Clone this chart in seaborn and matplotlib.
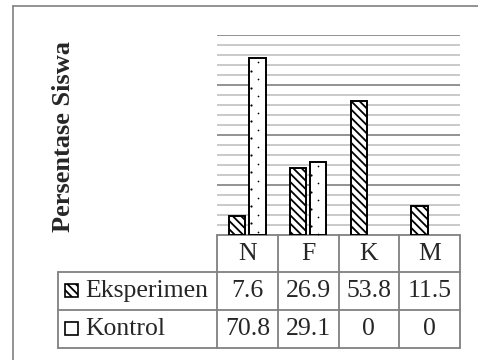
import matplotlib
matplotlib.use("Agg")
import matplotlib.pyplot as plt
import seaborn as sns
import pandas as pd
import numpy as np
from matplotlib.lines import Line2D
from matplotlib.patches import Rectangle

# data
categories = ['N', 'F', 'K', 'M']
groups = ['Eksperimen', 'Kontrol']
eksperimen = [7.6, 26.9, 53.8, 11.5]
kontrol = [70.8, 29.1, 0, 0]
value_labels = {
    'Eksperimen': ['7.6', '26.9', '53.8', '11.5'],
    'Kontrol': ['70.8', '29.1', '0', '0'],
}

df = pd.DataFrame({
    'Kategori': categories * 2,
    'Kelompok': ['Eksperimen'] * 4 + ['Kontrol'] * 4,
    'Persen': eksperimen + kontrol,
})

sns.set_style("white")
plt.rcParams['font.family'] = ['Liberation Serif', 'DejaVu Serif']
plt.rcParams['hatch.linewidth'] = 1.3

fig = plt.figure(figsize=(4.78, 3.6), dpi=100)
ax = fig.add_axes([217 / 478, 1 - 235 / 360, 243 / 478, 200 / 360])

sns.barplot(data=df, x='Kategori', y='Persen', hue='Kelompok', order=categories,
            hue_order=groups, palette=['white', 'white'], width=0.672, gap=0.2,
            edgecolor='black', linewidth=1.4, legend=False, ax=ax, zorder=3)

# Eksperimen: diagonal hatch
for bar in ax.containers[0]:
    bar.set_hatch('\\\\\\\\')
# Kontrol: sparse dotted fill (like the Excel pattern)
step = 6.8  # about 17 px
for bar in ax.containers[1]:
    hgt = bar.get_height()
    if hgt <= 0:
        bar.set_linewidth(0)
        continue
    x0, w = bar.get_x(), bar.get_width()
    ys = np.arange(hgt - 1.6, 0, -step)
    ax.scatter(np.full(len(ys), x0 + w / 2), ys, s=1.5, color='black', zorder=4, lw=0)
    ys2 = np.arange(hgt - 1.6 - step / 2, 0, -step)
    ax.scatter(np.full(len(ys2), x0 + 0.02), ys2, s=2.5, color='black', zorder=4, lw=0)

ax.set_ylim(0, 80)
ax.set_xlim(-0.5, 3.5)
for y in range(4, 81, 4):
    ax.axhline(y, color='#808080' if y % 20 == 0 else '#c0c0c0', lw=1.2, zorder=1)
ax.set_xticks([])
ax.set_yticks([])
ax.set_xlabel('')
ax.set_ylabel('')
for s in ax.spines.values():
    s.set_visible(False)

# data table below the plot (axes coords, 1 unit = plot height 200 px)
px = 1 / 200
label_w = 159 / 243
rows_y = [0, -37 * px, -75 * px, -113 * px]
tc = '#808080'
tlw = 1.3

def tline(xs, ys):
    ax.add_line(Line2D(xs, ys, color=tc, lw=tlw, transform=ax.transAxes, clip_on=False))

tline([0, 1], [rows_y[0]] * 2)
for yy in rows_y[1:]:
    tline([-label_w, 1], [yy] * 2)
tline([-label_w, -label_w], [rows_y[1], rows_y[3]])
for i in range(5):
    tline([i * 0.25] * 2, [rows_y[0], rows_y[3]])

fs = 18.5
for i, cat in enumerate(categories):
    ax.text((i + 0.5) * 0.25, (rows_y[0] + rows_y[1]) / 2, cat, transform=ax.transAxes,
            ha='center', va='center', fontsize=fs)

for r, g in enumerate(groups):
    yc = (rows_y[r + 1] + rows_y[r + 2]) / 2
    for i, v in enumerate(value_labels[g]):
        ax.text((i + 0.5) * 0.25, yc, v, transform=ax.transAxes,
                ha='center', va='center', fontsize=fs)
    # legend key
    kx = -label_w + 7 / 243
    ax.add_patch(Rectangle((kx, yc - 6 * px), 13 / 243, 13 * px, facecolor='white',
                           edgecolor='black', lw=1.2, hatch='\\\\\\\\' if r == 0 else '',
                           transform=ax.transAxes, clip_on=False))
    ax.text(-label_w + 27 / 243, yc, g, transform=ax.transAxes,
            ha='left', va='center', fontsize=fs)

fig.text(64 / 478, 1 - 136 / 360, 'Persentase Siswa', rotation=90,
         ha='center', va='center', fontsize=19, fontweight='bold')

# outer frame
fig.add_artist(Line2D([13 / 478, 13 / 478], [0, 1 - 6 / 360], color='#808080', lw=1.2))
fig.add_artist(Line2D([13 / 478, 1], [1 - 6 / 360, 1 - 6 / 360], color='#808080', lw=1.2))

fig.savefig('out.png', dpi=100)
